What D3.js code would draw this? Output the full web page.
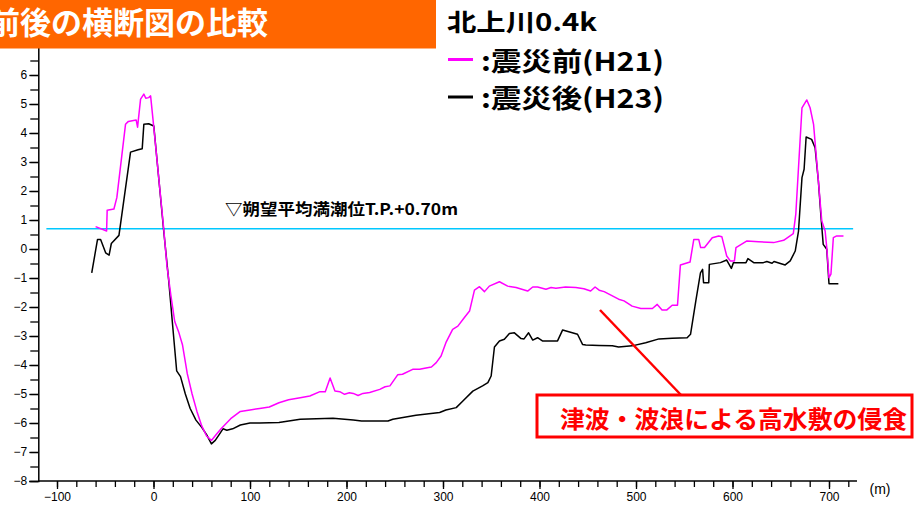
<!DOCTYPE html>
<html>
<head>
<meta charset="utf-8">
<script src="https://cdn.jsdelivr.net/npm/d3@7"></script>
<style>
  body { margin: 0; background: #fff; }
  svg { display: block; font-family: "Noto Sans CJK JP", sans-serif; }
  .tick text { font-family: "Liberation Sans Narrow", "Liberation Sans", sans-serif; font-size: 12px; fill: #000; }
</style>
</head>
<body>
<div id="chart"></div>
<script>
// 震災前 (H21) : distance (m) / elevation (T.P. m)
const beforeX = [-60, -48.6, -48, -41, -38, -29, -26, -18, -16.5, -13.4, -10, -8, -5, -3, 0, 10.6, 14, 18, 22, 26, 30, 35, 40, 45, 50, 55, 60, 65, 70, 80, 90, 100, 110, 120, 130, 140, 152, 162, 172.5, 178, 183, 188, 193, 198, 203, 207, 212, 217, 224, 234.5, 240, 245, 253, 258, 268.6, 275.8, 281, 288, 293, 298, 303, 310, 315.4, 322, 327.5, 332.6, 337.8, 343, 348, 358.5, 367, 375.7, 387.7, 393, 398, 406.7, 412, 417, 427, 437.7, 446, 453, 457.6, 461.8, 467, 482, 487.6, 496, 505, 517, 522, 527, 532, 537.5, 543, 546, 556, 559.9, 565, 567, 571, 579, 585.7, 589, 594, 597.7, 602, 603.6, 615, 627, 642.6, 653, 663, 665.6, 672, 677, 680.4, 684, 689, 692.5, 696, 697.7, 700, 702, 704.5, 708, 715];
const beforeY = [0.77, 0.62, 1.34, 1.38, 1.77, 4.3, 4.4, 4.45, 4.2, 5.17, 5.34, 5.2, 5.22, 5.28, 4.3, 0.7, -0.6, -1.6, -2.5, -2.85, -3.3, -4.3, -5.0, -5.6, -6.1, -6.45, -6.6, -6.4, -6.2, -5.85, -5.6, -5.55, -5.5, -5.45, -5.3, -5.2, -5.13, -5.07, -4.92, -4.92, -4.45, -4.9, -4.92, -5.01, -4.96, -4.98, -5.05, -4.98, -4.95, -4.84, -4.75, -4.72, -4.34, -4.32, -4.15, -4.15, -4.11, -4.07, -3.92, -3.69, -3.23, -2.77, -2.66, -2.37, -2.14, -1.42, -1.3, -1.47, -1.28, -1.13, -1.28, -1.33, -1.45, -1.31, -1.31, -1.39, -1.33, -1.35, -1.31, -1.33, -1.37, -1.45, -1.31, -1.42, -1.47, -1.73, -1.79, -1.97, -2.05, -2.05, -1.91, -2.1, -2.1, -1.94, -1.94, -0.55, -0.45, 0.33, 0.33, 0.05, 0.05, 0.39, 0.45, 0.42, -0.24, -0.41, -0.41, 0.05, 0.28, 0.25, 0.22, 0.3, 0.53, 1.2, 4.87, 5.14, 4.87, 4.3, 2.34, 0.97, 0.62, 0.04, -0.99, -0.87, 0.39, 0.45, 0.45];

// 震災後 (H23)
const afterX = [-64, -58, -54.8, -49.6, -46, -43.7, -35.8, -23.8, -16, -11.7, -10, -5, 0.3, 10.6, 15.8, 20, 24, 28, 33, 38, 44, 50, 55, 60, 64, 67, 72, 76, 82, 90, 100, 110, 130, 152, 186, 207, 215.6, 243, 248, 272, 296.5, 303, 313.7, 320.6, 330.9, 341, 346.5, 349.9, 353.3, 358.5, 363.6, 368.8, 374, 380.9, 384, 388.7, 393, 398, 403, 418.7, 424, 439.4, 444.6, 448, 461.8, 475.5, 482, 496, 510, 523.8, 537.5, 553, 556.5, 562, 566.8, 569, 570, 575.4, 576, 587.5, 594, 598.8, 601, 614, 616, 622, 632, 635.6, 641, 643, 654.6, 659.8, 665, 668.4, 672, 674.2, 676.3, 682, 685.6, 689, 691.5, 694, 697.7, 700, 709.7];
const afterY = [-0.82, 0.33, 0.33, -0.13, -0.21, 0.19, 0.47, 3.34, 3.42, 3.46, 4.3, 4.32, 4.24, 0.62, -1.1, -2.7, -4.2, -4.4, -5.0, -5.5, -5.9, -6.15, -6.4, -6.72, -6.6, -6.45, -6.2, -6.25, -6.2, -6.07, -6.0, -6.0, -5.98, -5.87, -5.84, -5.9, -5.93, -5.93, -5.87, -5.73, -5.64, -5.55, -5.47, -5.24, -4.9, -4.72, -4.61, -4.38, -3.38, -3.17, -3.11, -2.91, -2.89, -3.09, -3.1, -2.89, -3.14, -3.06, -3.17, -3.17, -2.79, -2.94, -3.29, -3.31, -3.33, -3.34, -3.38, -3.34, -3.23, -3.1, -3.08, -3.06, -2.94, -1.79, -0.82, -0.7, -1.16, -1.16, -0.53, -0.47, -0.38, -0.67, -0.47, -0.47, -0.33, -0.47, -0.47, -0.43, -0.49, -0.43, -0.55, -0.41, -0.07, 0.62, 2.46, 2.75, 3.86, 3.78, 3.49, 2.34, 1.2, 0.16, -0.01, -1.2, -1.2];

const xMajor = [-100, 0, 100, 200, 300, 400, 500, 600, 700];
const xMinor = d3.range(-100, 721, 20);
const yMajor = d3.range(-8, 7, 1);
const yMinor = d3.range(-8, 7.01, 0.5);
const tideLevel = 0.70;

const titleText = "震災前後の横断図の比較";
const riverText = "北上川0.4k";
const legendText = [":震災前(H21)", ":震災後(H23)"];
const legendColor = ["#ff00ff", "#000000"];
const tideText = "▽朔望平均満潮位T.P.+0.70m";
const noteText = "津波・波浪による高水敷の侵食";

const W = 915, H = 508;

const svg = d3.select("#chart")
    .append("svg")
    .attr("width", W)
    .attr("height", H);

const x = d3.scaleLinear().domain([0, 700]).range([153.5, 829]);
const y = d3.scaleLinear().domain([-8, 7]).range([481, 46]);

// axes
const xAxisY = y(-8);
const yAxisX = x.invert(38.3);

svg.append("g")
    .attr("transform", `translate(0,${xAxisY})`)
    .call(d3.axisBottom(x).tickValues(xMinor).tickSize(6).tickFormat(""))
    .call(g => g.select(".domain").remove());

svg.append("g")
    .attr("transform", `translate(0,${xAxisY})`)
    .call(d3.axisBottom(x).tickValues(xMajor).tickSize(8).tickPadding(3))
    .call(g => g.select(".domain").remove());

svg.append("line")
    .attr("x1", x(yAxisX)).attr("x2", x(729))
    .attr("y1", xAxisY).attr("y2", xAxisY)
    .attr("stroke", "#000").attr("stroke-width", 1.5);

svg.append("text")
    .attr("x", 880).attr("y", 494)
    .attr("text-anchor", "middle")
    .style("font-family", "'Liberation Sans Narrow', 'Liberation Sans', sans-serif")
    .style("font-size", "14px")
    .text("(m)");

svg.append("g")
    .attr("transform", `translate(${x(yAxisX)},0)`)
    .call(d3.axisLeft(y).tickValues(yMinor).tickSize(8).tickFormat(""))
    .call(g => g.select(".domain").remove());

svg.append("g")
    .attr("transform", `translate(${x(yAxisX)},0)`)
    .call(d3.axisLeft(y).tickValues(yMajor).tickSize(9).tickPadding(2))
    .call(g => g.select(".domain").attr("stroke-width", 1.5));

svg.selectAll(".tick line").attr("stroke-width", 1.3);

// mean high water line
svg.append("line")
    .attr("x1", x(-111)).attr("x2", x(725))
    .attr("y1", y(tideLevel)).attr("y2", y(tideLevel))
    .attr("stroke", "#00c8ff").attr("stroke-width", 1.5);

svg.append("text")
    .attr("x", 225).attr("y", 215)
    .attr("textLength", 233).attr("lengthAdjust", "spacingAndGlyphs")
    .style("font-size", "16px").style("font-weight", "bold")
    .text(tideText);

// cross sections
const line = d3.line()
    .x(d => x(d[0]))
    .y(d => y(d[1]));

const series = [
    { xs: afterX, ys: afterY, color: legendColor[1] },
    { xs: beforeX, ys: beforeY, color: legendColor[0] }
];

svg.selectAll(".section")
    .data(series)
    .enter().append("path")
    .classed("section", true)
    .attr("d", s => line(s.xs.map((v, i) => [v, s.ys[i]])))
    .attr("fill", "none")
    .attr("stroke", s => s.color)
    .attr("stroke-width", 1.5)
    .attr("stroke-linejoin", "round");

// title banner (text runs off the left edge, as in the original slide)
svg.append("rect")
    .attr("x", 0).attr("y", 0)
    .attr("width", 436).attr("height", 48.5)
    .attr("fill", "#ff6600");

svg.append("text")
    .attr("x", -73).attr("y", 34)
    .attr("textLength", 341).attr("lengthAdjust", "spacingAndGlyphs")
    .attr("fill", "#fff")
    .style("font-size", "30.5px").style("font-weight", "bold")
    .text(titleText);

// legend
svg.append("text")
    .attr("x", 447).attr("y", 31)
    .attr("textLength", 150).attr("lengthAdjust", "spacingAndGlyphs")
    .style("font-size", "24px").style("font-weight", "bold")
    .text(riverText);

legendText.forEach((t, i) => {
    const cy = 59.5 + i * 37.5;
    svg.append("line")
        .attr("x1", 448).attr("x2", 473)
        .attr("y1", cy).attr("y2", cy)
        .attr("stroke", legendColor[i]).attr("stroke-width", 3);
    svg.append("text")
        .attr("x", 481).attr("y", cy + 11)
        .attr("textLength", 183).attr("lengthAdjust", "spacingAndGlyphs")
        .style("font-size", "26px").style("font-weight", "bold")
        .text(t);
});

// annotation
svg.append("line")
    .attr("x1", 600).attr("y1", 310)
    .attr("x2", 681).attr("y2", 395)
    .attr("stroke", "#ff0000").attr("stroke-width", 2.5);

svg.append("rect")
    .attr("x", 537).attr("y", 395)
    .attr("width", 375).attr("height", 42)
    .attr("fill", "#fff")
    .attr("stroke", "#ff0000").attr("stroke-width", 3);

svg.append("text")
    .attr("x", 560).attr("y", 428)
    .attr("textLength", 347).attr("lengthAdjust", "spacingAndGlyphs")
    .attr("fill", "#ff0000")
    .style("font-size", "24px").style("font-weight", "bold")
    .text(noteText);
</script>
</body>
</html>
